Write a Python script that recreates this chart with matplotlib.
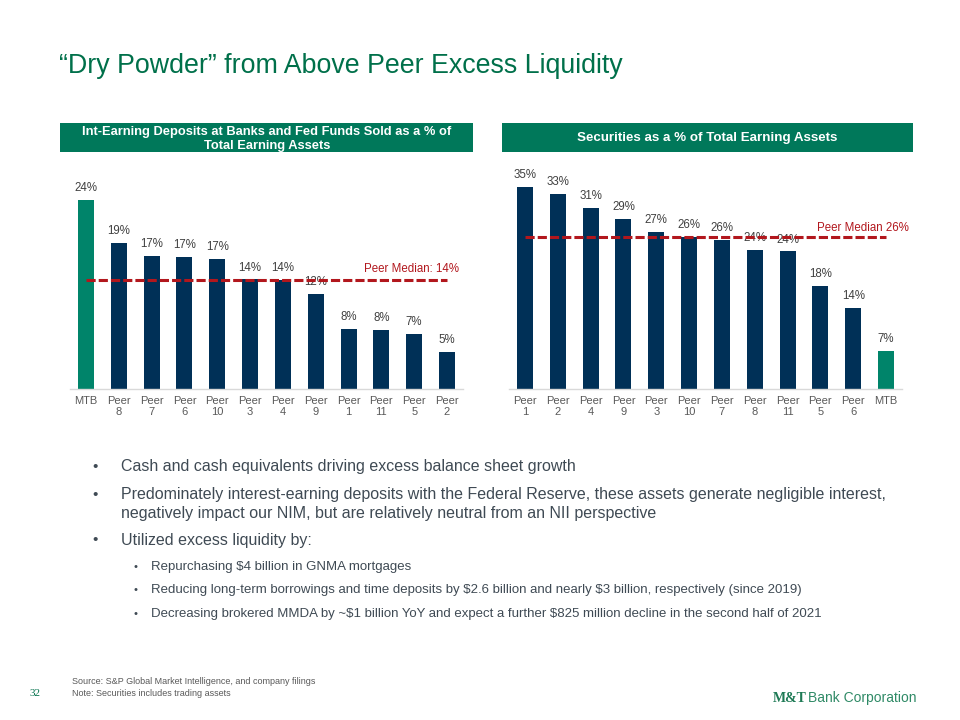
import matplotlib
matplotlib.use("Agg")
import matplotlib.pyplot as plt
from matplotlib.patches import Rectangle

plt.rcParams['font.family'] = ['Liberation Sans', 'DejaVu Sans']
plt.rcParams['text.parse_math'] = False

# left chart: int-earning deposits + fed funds sold as % of earning assets
left_cats = ["MTB", "Peer\n8", "Peer\n7", "Peer\n6", "Peer\n10", "Peer\n3", "Peer\n4",
             "Peer\n9", "Peer\n1", "Peer\n11", "Peer\n5", "Peer\n2"]
left_vals = [24.3, 18.8, 17.1, 17.0, 16.7, 14.1, 14.0, 12.2, 7.7, 7.6, 7.1, 4.8]
left_median = 14.05

# right chart: securities as % of earning assets
right_cats = ["Peer\n1", "Peer\n2", "Peer\n4", "Peer\n9", "Peer\n3", "Peer\n10", "Peer\n7",
              "Peer\n8", "Peer\n11", "Peer\n5", "Peer\n6", "MTB"]
right_vals = [34.6, 33.4, 31.0, 29.2, 26.9, 26.1, 25.6, 23.9, 23.6, 17.7, 13.9, 6.6]
right_median = 26.1

bullets = [
    "Cash and cash equivalents driving excess balance sheet growth",
    "Predominately interest-earning deposits with the Federal Reserve, these assets generate negligible interest,\nnegatively impact our NIM, but are relatively neutral from an NII perspective",
    "Utilized excess liquidity by:",
]
sub_bullets = [
    "Repurchasing $4 billion in GNMA mortgages",
    "Reducing long-term borrowings and time deposits by $2.6 billion and nearly $3 billion, respectively (since 2019)",
    "Decreasing brokered MMDA by ~$1 billion YoY and expect a further $825 million decline in the second half of 2021",
]

W, H = 960, 720
NAVY = "#003057"
BARGREEN = "#00846A"
HDRGREEN = "#00785A"
TITLEGREEN = "#00704A"
RED = "#B2171D"
LBL = "#404040"
TXT = "#3F4A54"

fig = plt.figure(figsize=(9.6, 7.2), dpi=100)


def fx(x):
    return x / W


def fy(y):
    return 1 - y / H


def bar_chart(rect, cats, vals, median, ymax, med_label, med_x, med_y):
    ax = fig.add_axes(rect)
    xs = list(range(len(cats)))
    colors = [BARGREEN if c == "MTB" else NAVY for c in cats]
    ax.bar(xs, vals, width=0.49, color=colors, zorder=2)
    for x, v in zip(xs, vals):
        ax.annotate(f"{v:.0f}%", (x, v), xytext=(0, 8.5), textcoords="offset points",
                    ha="center", va="center", fontsize=8.3, color=LBL, zorder=1)
    ax.plot([xs[0], xs[-1]], [median, median], color=RED, lw=2.2,
            dashes=(3, 1), zorder=3)
    ax.set_xlim(-0.5, len(cats) - 0.5)
    ax.set_ylim(0, ymax)
    ax.set_xticks(xs)
    ax.set_xticklabels(cats, fontsize=8, color="#595959", linespacing=1.15)
    ax.tick_params(axis="x", length=0, pad=5)
    ax.set_yticks([])
    for s in ["top", "right", "left"]:
        ax.spines[s].set_visible(False)
    ax.spines["bottom"].set_color("#D9D9D9")
    ax.spines["bottom"].set_linewidth(1)
    fig.text(fx(med_x), fy(med_y), med_label, ha="right", va="center",
             fontsize=8.3, color=RED)
    return ax


# left axes: bar centers 86..447 px, baseline 389 px, 7.8 px per %
bar_chart([fx(69.6), fy(389.3), 393.8 / W, 26 * 7.8 / H], left_cats, left_vals,
          left_median, 26, "Peer Median: 14%", 459, 269)
# right axes: bar centers 525..886 px, 5.84 px per %
bar_chart([fx(508.6), fy(389.3), 393.8 / W, 36 * 5.84 / H], right_cats, right_vals,
          right_median, 36, "Peer Median 26%", 909, 228)

# header boxes
fig.add_artist(Rectangle((fx(60), fy(152)), 413 / W, 29 / H, transform=fig.transFigure,
                         color=HDRGREEN, lw=0))
fig.add_artist(Rectangle((fx(502), fy(152)), 411 / W, 29 / H, transform=fig.transFigure,
                         color=HDRGREEN, lw=0))
fig.text(fx(267), fy(139), "Int-Earning Deposits at Banks and Fed Funds Sold as a % of\nTotal Earning Assets",
         ha="center", va="center", fontsize=9.3, fontweight="bold", color="white",
         linespacing=1.3)
fig.text(fx(707), fy(138), "Securities as a % of Total Earning Assets",
         ha="center", va="center", fontsize=9.6, fontweight="bold", color="white")

# title
fig.text(fx(59), fy(66), "\u201cDry Powder\u201d from Above Peer Excess Liquidity",
         ha="left", va="center", fontsize=19.3, color=TITLEGREEN)

# bullets
bullet_y = [467, 504, 540]
for y, t in zip(bullet_y, bullets):
    fig.text(fx(92), fy(y if "\n" not in t else 495), "\u2022", ha="left", va="center",
             fontsize=11, color=TXT)
    fig.text(fx(121), fy(y), t, ha="left", va="center", fontsize=11.5, color=TXT,
             linespacing=1.35)
sub_y = [567, 590, 614]
for y, t in zip(sub_y, sub_bullets):
    fig.text(fx(133), fy(y), "\u2022", ha="left", va="center", fontsize=8, color=TXT)
    fig.text(fx(151), fy(y), t, ha="left", va="center", fontsize=9.55, color=TXT)

# footer
fig.text(fx(72), fy(681), "Source: S&P Global Market Intelligence, and company filings",
         ha="left", va="center", fontsize=6.5, color="#595959")
fig.text(fx(72), fy(694), "Note: Securities includes trading assets",
         ha="left", va="center", fontsize=6.5, color="#595959")
fig.text(fx(29), fy(693), "32", ha="left", va="center", fontsize=8,
         family="Liberation Serif", color=TITLEGREEN)
fig.text(fx(773), fy(698), "M&T", ha="left", va="center", fontsize=10, fontweight="bold",
         family="Liberation Serif", color="#1E7A55")
fig.text(fx(917), fy(698), "Bank Corporation", ha="right", va="center", fontsize=10,
         color="#2F8A66")

fig.savefig("out.png", dpi=100)
